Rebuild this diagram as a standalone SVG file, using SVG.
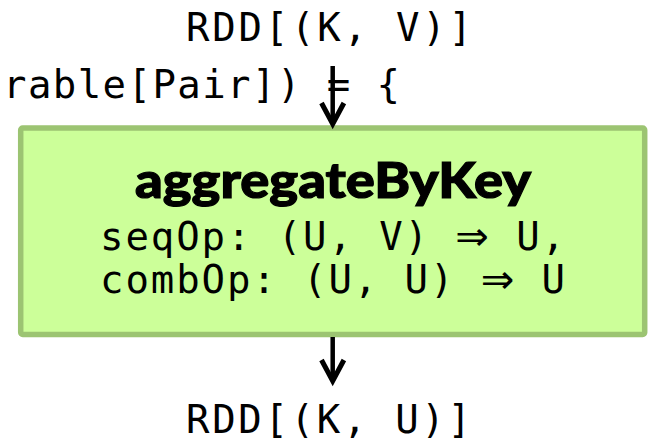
<svg xmlns="http://www.w3.org/2000/svg" width="650" height="443" viewBox="0 0 650 443">
<style>
.mono{font-family:"DejaVu Sans Mono","Liberation Mono",monospace;font-size:39px;fill:#000}
.arr{font-family:"DejaVu Sans",sans-serif;font-size:40px}
.title{font-family:Lato,"Open Sans","Liberation Sans",sans-serif;font-weight:900;font-size:50px;fill:#000;stroke:#000;stroke-width:1.2}
.conn{stroke:#000;stroke-width:4.5;fill:none;stroke-linecap:butt}
.head{stroke:#000;stroke-width:5;fill:none;stroke-linejoin:miter}
</style>
<rect width="650" height="443" fill="#fff"/>
<g id="input">
<text class="mono" x="186" y="41" textLength="286" lengthAdjust="spacing">RDD[(K, V)]</text>
</g>
<g id="code">
<text class="mono" x="3" y="98" textLength="397" lengthAdjust="spacing">rable[Pair]) = {</text>
</g>
<g id="aggregate">
<rect x="20.7" y="128" width="624" height="206.5" rx="2" fill="#ccff99" stroke="#9cc472" stroke-width="5.5"/>
<text class="title" x="333" y="198" text-anchor="middle" textLength="396" lengthAdjust="spacingAndGlyphs">aggregateByKey</text>
<text class="mono" x="100" y="250" textLength="465" lengthAdjust="spacing">seqOp: (U, V) <tspan class="arr">⇒</tspan> U,</text>
<text class="mono" x="100" y="293" textLength="465" lengthAdjust="spacing">combOp: (U, U) <tspan class="arr">⇒</tspan> U</text>
</g>
<g id="output">
<text class="mono" x="186" y="433" textLength="285" lengthAdjust="spacing">RDD[(K, U)]</text>
</g>
<g id="connectors">
<path class="conn" d="M332.7 66 V124"/>
<path class="head" d="M321.5 103 L332.7 124 L343.9 103"/>
<path class="conn" d="M332.7 337 V381"/>
<path class="head" d="M321.5 360 L332.7 381 L343.9 360"/>
</g>
</svg>
